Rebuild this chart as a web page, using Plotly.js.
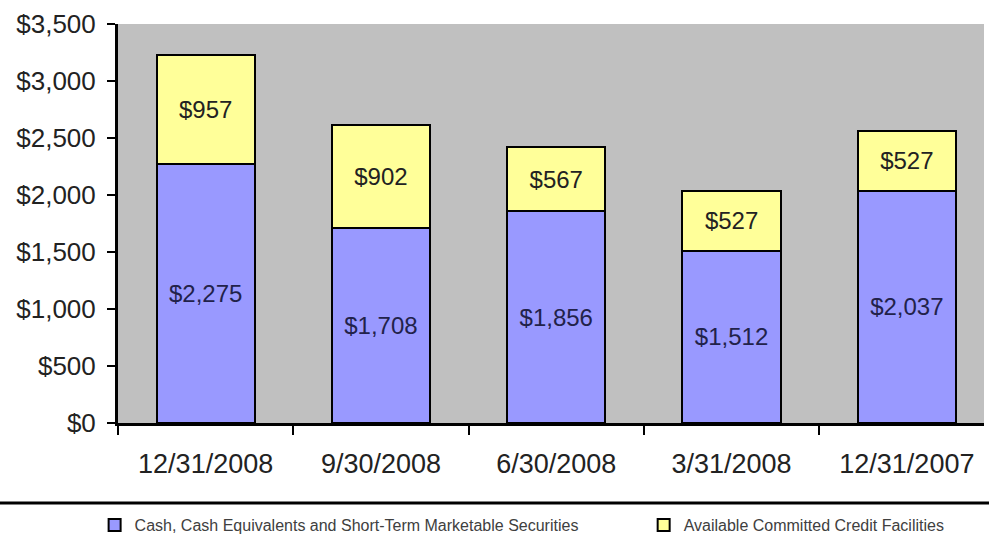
<!DOCTYPE html>
<html>
<head>
<meta charset="utf-8">
<script src="https://cdn.plot.ly/plotly-3.0.1.min.js"></script>
<style>html,body{margin:0;padding:0;background:#fff;}#chart{width:989px;height:542px;}</style>
</head>
<body>
<div id="chart"></div>
<script>
var categories = ["12/31/2008", "9/30/2008", "6/30/2008", "3/31/2008", "12/31/2007"];
var cashValues = [2275, 1708, 1856, 1512, 2037];
var creditValues = [957, 902, 567, 527, 527];
var seriesNames = ["Cash, Cash Equivalents and Short-Term Marketable Securities", "Available Committed Credit Facilities"];
var yTickVals = [0, 500, 1000, 1500, 2000, 2500, 3000, 3500];
var yTickText = ["$0", "$500", "$1,000", "$1,500", "$2,000", "$2,500", "$3,000", "$3,500"];

function money(v) { return "$" + v.toLocaleString("en-US"); }

var FONT = "Arial, 'Liberation Sans', sans-serif";

var traces = [
  {
    type: "bar", name: seriesNames[0], x: categories, y: cashValues, legend: "legend",
    text: cashValues.map(money), textposition: "inside", insidetextanchor: "middle",
    textangle: 0, constraintext: "none",
    textfont: {family: FONT, size: 24, color: "#22224a"},
    marker: {color: "#9999FF", line: {color: "#000000", width: 2}},
    width: 0.56, hoverinfo: "skip"
  },
  {
    type: "bar", name: seriesNames[1], x: categories, y: creditValues, legend: "legend2",
    text: creditValues.map(money), textposition: "inside", insidetextanchor: "middle",
    textangle: 0, constraintext: "none",
    textfont: {family: FONT, size: 24, color: "#222222"},
    marker: {color: "#FFFF99", line: {color: "#000000", width: 2}},
    width: 0.56, hoverinfo: "skip"
  }
];

var legendCommon = {
  orientation: "h", xanchor: "left", y: -0.2556, yanchor: "middle",
  font: {family: FONT, size: 16, color: "#404040"},
  bgcolor: "rgba(0,0,0,0)", borderwidth: 0, itemwidth: 30
};

var layout = {
  width: 989, height: 542,
  margin: {l: 118, r: 5, t: 24, b: 119, pad: 0, autoexpand: false},
  barmode: "stack",
  paper_bgcolor: "#ffffff",
  plot_bgcolor: "#C0C0C0",
  showlegend: true,
  font: {family: FONT, color: "#222222"},
  xaxis: {
    type: "category", range: [-0.5, 4.44], fixedrange: true, automargin: false,
    showgrid: false, showline: true, linecolor: "#000000", linewidth: 3,
    ticks: "outside", tickson: "boundaries", ticklen: 9, tickwidth: 2, tickcolor: "#000000",
    tickfont: {family: FONT, size: 27, color: "#222222"},
    ticklabelstandoff: 15
  },
  yaxis: {
    range: [0, 3500], fixedrange: true, automargin: false,
    showgrid: false, zeroline: false, showline: true, linecolor: "#000000", linewidth: 3,
    tickmode: "array", tickvals: yTickVals, ticktext: yTickText,
    ticks: "outside", ticklen: 8, tickwidth: 2, tickcolor: "#000000",
    tickfont: {family: FONT, size: 26, color: "#222222"},
    ticklabelstandoff: 6
  },
  legend: Object.assign({}, legendCommon, {x: -0.027}),
  legend2: Object.assign({}, legendCommon, {x: 0.607}),
  shapes: [
    {type: "line", xref: "paper", yref: "paper", x0: -0.2, x1: 1.01, y0: -0.2005, y1: -0.2005,
     line: {color: "#000000", width: 3}}
  ]
};

Plotly.newPlot("chart", traces, layout, {displayModeBar: false, staticPlot: true});
</script>
</body>
</html>
